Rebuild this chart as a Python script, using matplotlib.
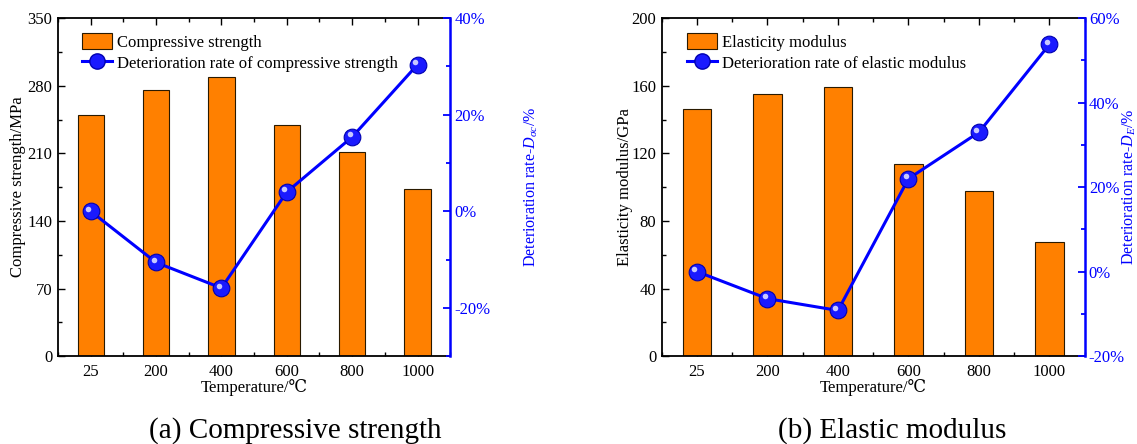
import matplotlib
matplotlib.use('Agg')
import matplotlib.pyplot as plt
import numpy as np
from matplotlib.ticker import MultipleLocator, PercentFormatter, AutoMinorLocator
from matplotlib.transforms import ScaledTranslation
from matplotlib.patches import Patch
from matplotlib.lines import Line2D

plt.rcParams['font.family'] = ['Liberation Serif', 'DejaVu Serif']
plt.rcParams['mathtext.fontset'] = 'custom'
plt.rcParams['mathtext.rm'] = 'Liberation Serif'
plt.rcParams['mathtext.it'] = 'Liberation Serif:italic'
plt.rcParams['axes.unicode_minus'] = False

temps = ['25', '200', '400', '600', '800', '1000']
comp_strength = [249.5, 276, 289, 239.5, 211, 173.5]          # MPa
comp_deter = [0.0, -10.6, -15.9, 4.0, 15.4, 30.4]             # %
elastic_mod = [146, 155.2, 159.4, 113.8, 97.8, 67.5]          # GPa
elastic_deter = [0.0, -6.4, -9.2, 22.0, 33.0, 53.8]           # %

ORANGE = '#FF8000'
BLUE = '#0000FF'

fig = plt.figure(figsize=(11.37, 4.44), dpi=100)


def panel(rect, bars, rate, ylim, ystep, rlim, rstep, ylabel, rlabel,
          bar_label, line_label, caption, cap_x, ylab_x, rlab_x):
    ax = fig.add_axes(rect)
    x = np.arange(len(temps))
    ax.bar(x, bars, width=0.4, color=ORANGE, edgecolor='#2a1a00', linewidth=0.8,
           label=bar_label, zorder=2)
    ax.set_xlim(-0.5, len(temps) - 0.5)
    ax.set_ylim(*ylim)
    ax.yaxis.set_major_locator(MultipleLocator(ystep))
    ax.yaxis.set_minor_locator(AutoMinorLocator(2))
    ax.set_xticks(x)
    ax.set_xticklabels(temps)
    ax.xaxis.set_minor_locator(MultipleLocator(0.5))
    ax.tick_params(which='both', direction='in', top=True, labelsize=12, pad=6)
    ax.tick_params(which='major', length=5, width=1)
    ax.tick_params(which='minor', length=3, width=1)
    ax.tick_params(axis='y', pad=4)
    ax.set_xlabel('Temperature/\u2103', fontsize=12, labelpad=-1)
    ax.set_ylabel(ylabel, fontsize=12)
    ax.yaxis.set_label_coords(ylab_x, 0.5)
    for s in ['left', 'bottom', 'top']:
        ax.spines[s].set_linewidth(1.3)
    ax.spines['right'].set_visible(False)

    ax2 = ax.twinx()
    ax2.plot(x, rate, color=BLUE, lw=2.2, marker='o', ms=12,
             mfc='#1a1aff', mec='#0000b0', mew=0.8, zorder=3)
    # glossy highlight on the markers
    hl = ax2.transData + ScaledTranslation(-1.8 / 72, 1.8 / 72, fig.dpi_scale_trans)
    ax2.plot(x, rate, ls='none', marker='o', ms=4, mfc='#c8c8ff', mec='none',
             transform=hl, zorder=4)
    ax2.set_ylim(*rlim)
    ax2.yaxis.set_major_locator(MultipleLocator(rstep))
    ax2.yaxis.set_minor_locator(AutoMinorLocator(2))
    ax2.yaxis.set_major_formatter(PercentFormatter(decimals=0))
    ax2.tick_params(which='both', direction='in', colors=BLUE, labelsize=12, pad=3)
    ax2.tick_params(which='major', length=5, width=1.3)
    ax2.tick_params(which='minor', length=3, width=1.3)
    ax2.spines['right'].set_color(BLUE)
    ax2.spines['right'].set_linewidth(1.8)
    for s in ['left', 'bottom', 'top']:
        ax2.spines[s].set_visible(False)
    ax2.set_ylabel(rlabel, color=BLUE, fontsize=11.5)
    ax2.yaxis.set_label_coords(rlab_x, 0.5)

    handles = [Patch(facecolor=ORANGE, edgecolor='#2a1a00', linewidth=0.8),
               Line2D([0], [0], color=BLUE, lw=2.2, marker='o', ms=11,
                      mfc='#1a1aff', mec='#0000b0')]
    ax.legend(handles, [bar_label, line_label], loc='upper left',
              bbox_to_anchor=(0.035, 0.985), frameon=False, fontsize=12,
              handlelength=1.8, handleheight=1.1, labelspacing=0.2,
              borderaxespad=0.2, handletextpad=0.3)
    fig.text(cap_x, 0.0, caption, ha='center', va='bottom', fontsize=21)
    return ax, ax2


panel([0.051, 0.198, 0.345, 0.761], comp_strength, comp_deter,
      (0, 350), 70, (-30, 40), 20,
      'Compressive strength/MPa', r'Deterioration rate-$D_{\sigma c}$/%',
      'Compressive strength', 'Deterioration rate of compressive strength',
      '(a) Compressive strength', 0.26, -0.082, 1.184)

panel([0.582, 0.198, 0.372, 0.761], elastic_mod, elastic_deter,
      (0, 200), 40, (-20, 60), 20,
      'Elasticity modulus/GPa', r'Deterioration rate-$D_{E}$/%',
      'Elasticity modulus', 'Deterioration rate of elastic modulus',
      '(b) Elastic modulus', 0.785, -0.069, 1.084)

fig.savefig('out.png', dpi=100)
